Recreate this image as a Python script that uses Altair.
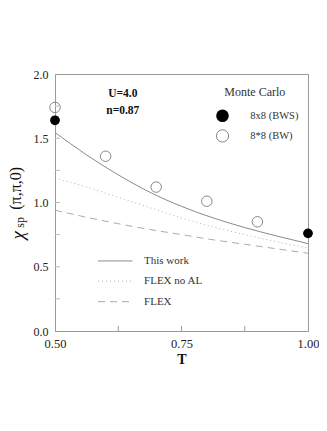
import altair as alt
import pandas as pd

# ---- data ----
T_curve = [0.50, 0.5625, 0.625, 0.6875, 0.75, 0.8125, 0.875, 0.9375, 1.0]
chi_this_work = [1.545, 1.37, 1.215, 1.08, 0.97, 0.88, 0.805, 0.74, 0.68]
chi_flex_no_al = [1.19, 1.12, 1.04, 0.96, 0.88, 0.81, 0.75, 0.695, 0.645]
chi_flex = [0.94, 0.885, 0.835, 0.79, 0.75, 0.71, 0.675, 0.64, 0.605]

T_bws = [0.50, 1.0]
chi_bws = [1.64, 0.76]
T_bw = [0.50, 0.60, 0.70, 0.80, 0.90]
chi_bw = [1.74, 1.36, 1.12, 1.01, 0.85]

series_names = ["This work", "FLEX no AL", "FLEX"]
mc_names = ["8x8 (BWS)", "8*8 (BW)"]
x_label_values = [0.50, 0.75, 1.00]
y_label_values = [0.0, 0.5, 1.0, 1.5, 2.0]
x_minor = [0.625, 0.75, 0.875]
y_minor = [0.25, 0.5, 0.75, 1.0, 1.25, 1.5, 1.75]

FONT = "Liberation Serif"
GRAY = "#999999"

xs = alt.Scale(domain=[0.5, 1.0], nice=False, zero=False)
ys = alt.Scale(domain=[0.0, 2.0], nice=False, zero=False)

X = alt.X("T:Q", scale=xs,
          axis=alt.Axis(values=x_label_values, format=".2f", ticks=False, grid=False,
                        title="T", titleFont=FONT, titleFontWeight="bold", titleFontSize=14,
                        titleColor="#111", titlePadding=3,
                        labelFont=FONT, labelFontSize=12.5, labelColor="#222", labelPadding=6,
                        domainColor=GRAY, labelFlush=False))
Y = alt.Y("chi:Q", scale=ys,
          axis=alt.Axis(values=y_label_values, format=".1f", ticks=False, grid=False,
                        title=None, labelFont=FONT, labelFontSize=12, labelColor="#222",
                        labelPadding=7, domainColor=GRAY, labelFlush=False))

rows = []
for name, vals in zip(series_names, [chi_this_work, chi_flex_no_al, chi_flex]):
    for t, v in zip(T_curve, vals):
        rows.append({"T": t, "chi": v, "series": name})
curves = pd.DataFrame(rows)

styles = {
    "This work": dict(color="#8a8a8a", strokeWidth=1.0),
    "FLEX no AL": dict(color="#b0b0b0", strokeWidth=1.0, strokeDash=[1, 3]),
    "FLEX": dict(color="#ababab", strokeWidth=1.0, strokeDash=[7, 5]),
}

layers = []
for name in series_names:
    layers.append(
        alt.Chart(curves[curves.series == name])
        .mark_line(interpolate="monotone", **styles[name])
        .encode(x=X, y=Y)
    )

# legend sample lines (lower left)
leg_y = [0.545, 0.388, 0.228]
for name, yy in zip(series_names, leg_y):
    d = pd.DataFrame({"T": [0.585, 0.653], "chi": [yy, yy]})
    layers.append(alt.Chart(d).mark_line(**styles[name]).encode(x=X, y=Y))
leg_lab = pd.DataFrame({"T": [0.676] * 3, "chi": leg_y, "label": series_names})
layers.append(alt.Chart(leg_lab).mark_text(align="left", baseline="middle", font=FONT,
                                           fontSize=11, color="#333")
              .encode(x=X, y=Y, text="label:N"))

# Monte Carlo points
bws = pd.DataFrame({"T": T_bws, "chi": chi_bws})
bw = pd.DataFrame({"T": T_bw, "chi": chi_bw})
layers.append(alt.Chart(bw).mark_point(shape="circle", filled=False, size=110,
                                       color="#888", strokeWidth=1, opacity=1)
              .encode(x=X, y=Y))
layers.append(alt.Chart(bws).mark_point(shape="circle", filled=True, size=95,
                                        color="black", opacity=1)
              .encode(x=X, y=Y))

# Monte Carlo legend (upper right)
mc_title = pd.DataFrame({"T": [0.895], "chi": [1.862], "label": ["Monte Carlo"]})
layers.append(alt.Chart(mc_title).mark_text(align="center", baseline="middle", font=FONT,
                                            fontSize=12, color="#333")
              .encode(x=X, y=Y, text="label:N"))
leg_bws = pd.DataFrame({"T": [0.831], "chi": [1.675]})
leg_bw = pd.DataFrame({"T": [0.831], "chi": [1.518]})
layers.append(alt.Chart(leg_bws).mark_point(shape="circle", filled=True, size=160,
                                            color="black", opacity=1)
              .encode(x=X, y=Y))
layers.append(alt.Chart(leg_bw).mark_point(shape="circle", filled=False, size=150,
                                           color="#888", strokeWidth=1, opacity=1)
              .encode(x=X, y=Y))
mc_lab = pd.DataFrame({"T": [0.886, 0.886], "chi": [1.675, 1.518], "label": mc_names})
layers.append(alt.Chart(mc_lab).mark_text(align="left", baseline="middle", font=FONT,
                                          fontSize=10.5, color="#333")
              .encode(x=X, y=Y, text="label:N"))

# parameter annotation
params = pd.DataFrame({"T": [0.634, 0.634], "chi": [1.844, 1.712],
                       "label": ["U=4.0", "n=0.87"]})
layers.append(alt.Chart(params).mark_text(align="center", baseline="middle", font=FONT,
                                          fontSize=11.5, fontWeight="bold", color="#111")
              .encode(x=X, y=Y, text="label:N"))

# inner ticks
xt = pd.DataFrame({"T": x_minor, "chi": [0.0] * 3, "chi2": [0.04] * 3})
layers.append(alt.Chart(xt).mark_rule(color=GRAY, strokeWidth=1)
              .encode(x=X, y=Y, y2="chi2:Q"))
yt = pd.DataFrame({"T": [0.5] * len(y_minor), "T2": [0.5099] * len(y_minor), "chi": y_minor})
layers.append(alt.Chart(yt).mark_rule(color="#bbbbbb", strokeWidth=1)
              .encode(x=X, x2="T2:Q", y=Y))

# y-axis title: chi_sp(pi,pi,0), composed rotated
ytitle = pd.DataFrame({"T": [0.4259], "chi": [0.745], "label": ["χ"]})
layers.append(alt.Chart(ytitle).mark_text(angle=270, align="center", baseline="middle",
                                          font=FONT, fontSize=19, fontStyle="italic",
                                          color="#111")
              .encode(x=X, y=Y, text="label:N"))
ysub = pd.DataFrame({"T": [0.4308], "chi": [0.845], "label": ["sp"]})
layers.append(alt.Chart(ysub).mark_text(angle=270, align="center", baseline="middle",
                                        font=FONT, fontSize=12, color="#111")
              .encode(x=X, y=Y, text="label:N"))
yrest = pd.DataFrame({"T": [0.4229], "chi": [1.11], "label": ["(π,π,0)"]})
layers.append(alt.Chart(yrest).mark_text(angle=270, align="center", baseline="middle",
                                         font=FONT, fontSize=16, color="#111")
              .encode(x=X, y=Y, text="label:N"))

chart = (
    alt.layer(*layers)
    .properties(width=253, height=257, autosize="none",
                padding={"left": 47, "top": 66, "right": 11, "bottom": 92},
                background="white")
    .configure_view(stroke=GRAY, strokeWidth=1)
)

chart.save("out.html", embed_options={"renderer": "svg", "actions": False})
